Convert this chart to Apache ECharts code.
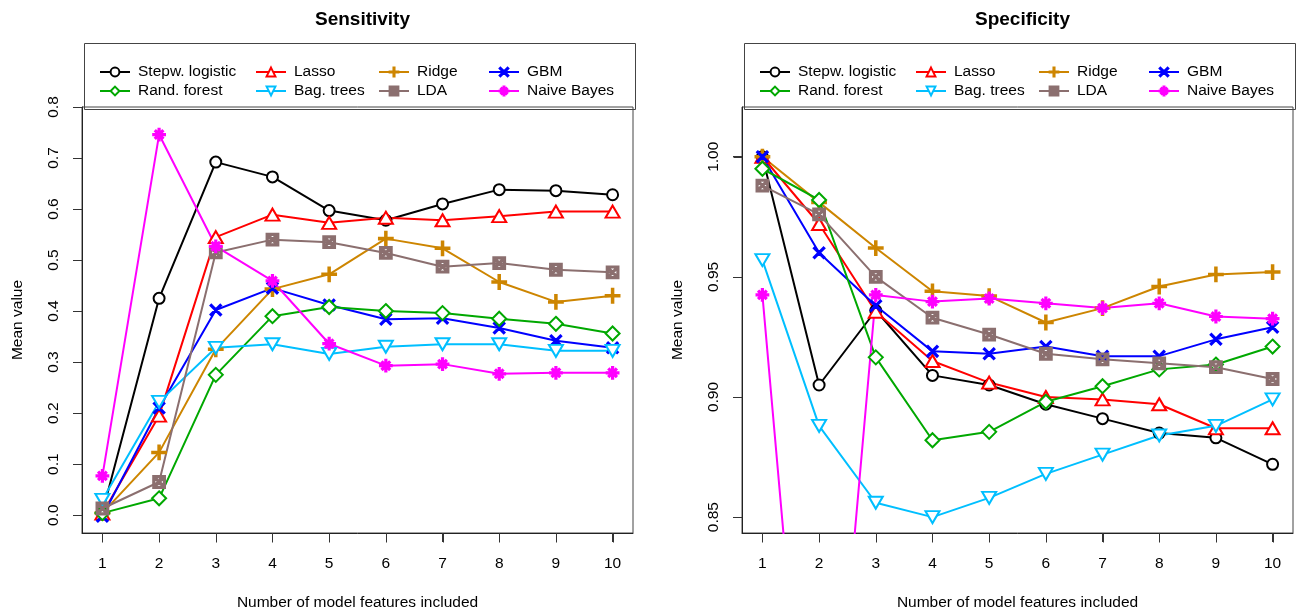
<!DOCTYPE html>
<html lang="en">

<head>
    <meta charset="UTF-8">
    <title>Sensitivity / Specificity</title>
    <script src="https://cdn.jsdelivr.net/npm/echarts@6/dist/echarts.min.js"></script>
</head>

<body style="margin:0">
    <div id="main" style="width:1298px;height:616px"></div>
    <script>
        var mCharts = echarts.init(document.getElementById('main'))

        // number of features on the x axis
        var features = [1, 2, 3, 4, 5, 6, 7, 8, 9, 10];
        var methods = ["Stepw. logistic", "Lasso", "Ridge", "GBM", "Rand. forest", "Bag. trees", "LDA", "Naive Bayes"];

        // Sensitivity (left panel)
        var sensStepw = [0.005, 0.425, 0.692, 0.663, 0.597, 0.578, 0.610, 0.638, 0.636, 0.628];
        var sensLasso = [0.003, 0.195, 0.545, 0.589, 0.573, 0.583, 0.578, 0.586, 0.595, 0.595];
        var sensRidge = [0.004, 0.123, 0.325, 0.443, 0.472, 0.542, 0.523, 0.457, 0.418, 0.430];
        var sensGBM = [-0.002, 0.210, 0.402, 0.445, 0.412, 0.384, 0.386, 0.367, 0.342, 0.328];
        var sensRF = [0.004, 0.033, 0.275, 0.390, 0.408, 0.400, 0.396, 0.385, 0.375, 0.356];
        var sensBag = [0.030, 0.222, 0.328, 0.335, 0.316, 0.330, 0.335, 0.335, 0.322, 0.322];
        var sensLDA = [0.013, 0.065, 0.515, 0.540, 0.535, 0.514, 0.487, 0.494, 0.481, 0.476];
        var sensNB = [0.077, 0.746, 0.527, 0.459, 0.336, 0.293, 0.296, 0.277, 0.279, 0.279];

        // Specificity (right panel)
        var specStepw = [1.000, 0.905, 0.936, 0.909, 0.905, 0.897, 0.891, 0.885, 0.883, 0.872];
        var specLasso = [1.000, 0.972, 0.9355, 0.915, 0.906, 0.900, 0.899, 0.897, 0.887, 0.887];
        var specRidge = [1.000, 0.981, 0.962, 0.944, 0.942, 0.931, 0.937, 0.946, 0.951, 0.952];
        var specGBM = [1.000, 0.960, 0.938, 0.919, 0.918, 0.921, 0.917, 0.917, 0.924, 0.929];
        var specRF = [0.995, 0.982, 0.9165, 0.882, 0.8855, 0.898, 0.9045, 0.9115, 0.9135, 0.921];
        var specBag = [0.957, 0.888, 0.856, 0.850, 0.858, 0.868, 0.876, 0.884, 0.888, 0.899];
        var specLDA = [0.988, 0.976, 0.950, 0.933, 0.926, 0.918, 0.9157, 0.914, 0.9124, 0.9075];
        var specNB = [0.9425, 0.675, 0.9425, 0.9397, 0.941, 0.939, 0.937, 0.939, 0.9335, 0.9326];

        var sensData = [sensStepw, sensLasso, sensRidge, sensGBM, sensRF, sensBag, sensLDA, sensNB];
        var specData = [specStepw, specLasso, specRidge, specGBM, specRF, specBag, specLDA, specNB];

        // tick labels
        var xTicks = [1, 2, 3, 4, 5, 6, 7, 8, 9, 10];
        var sensTicks = [0, 0.1, 0.2, 0.3, 0.4, 0.5, 0.6, 0.7, 0.8];
        var specTicks = [0.85, 0.90, 0.95, 1.00];

        var FONT = "'Liberation Sans', Arial, sans-serif";
        var colors = ["#000000", "#FF0000", "#CD8500", "#0000FF", "#00A800", "#00BFFF", "#8B6F6F", "#FF00FF"];
        var TICK_LEN = 9;

        // R style point symbols (outlines built from thin filled bars)
        var pPlus = "path://M5.7 0h1.6v5.7h5.7v1.6h-5.7v5.7h-1.6v-5.7h-5.7v-1.6h5.7z";
        var pCross = "path://M0 1.1L1.1 0L12 10.9L10.9 12Z M10.9 0L12 1.1L1.1 12L0 10.9Z";
        var pStar = "path://M5.3 0h1.4v5.3h5.3v1.4h-5.3v5.3h-1.4v-5.3h-5.3v-1.4h5.3z M1.8 2.8L2.8 1.8L10.2 9.2L9.2 10.2Z M9.2 1.8L10.2 2.8L2.8 10.2L1.8 9.2Z";
        var pSqX = "path://M0 0H12V12H0Z M1.4 1.4V10.6H10.6V1.4Z M1.4 2.4L2.4 1.4L10.6 9.6L9.6 10.6Z M9.6 1.4L10.6 2.4L2.4 10.6L1.4 9.6Z";
        var symbols = [
            { symbol: "emptyCircle", size: 11, rotate: 0 },
            { symbol: "emptyTriangle", size: [14, 12], rotate: 0 },
            { symbol: pPlus, size: 14, rotate: 0 },
            { symbol: pCross, size: 11, rotate: 0 },
            { symbol: "emptyDiamond", size: 14, rotate: 0 },
            { symbol: "emptyTriangle", size: [14, 12], rotate: 180 },
            { symbol: pSqX, size: 12, rotate: 0 },
            { symbol: pStar, size: 12, rotate: 0 }
        ];

        var panels = [
            { title: "Sensitivity", left: 82, data: sensData, min: -0.035, max: 0.8, ticks: sensTicks, digits: 1 },
            { title: "Specificity", left: 742, data: specData, min: 0.8434, max: 1.0207, ticks: specTicks, digits: 2 }
        ];
        var xMin = 0.64, xMax = 10.36;

        var grids = [], xAxes = [], yAxes = [], titles = [], legends = [], seriesArr = [], graphics = [];
        // legend columns (icon left, relative to plot left)
        var legCols = [12, 168, 291, 401];

        // outward tick marks, placed through the axis scales
        function tickSeries(k, vals, isX, p) {
            return {
                type: "custom",
                xAxisIndex: k, yAxisIndex: k,
                silent: true, clip: false, animation: false, z: 1,
                data: vals.map(function (v) { return isX ? [v, p.min] : [xMin, v]; }),
                renderItem: function (params, api) {
                    var pt = api.coord([api.value(0), api.value(1)]);
                    var x = Math.round(pt[0]) + 0.5, y = Math.round(pt[1]) + 0.5;
                    return {
                        type: "line",
                        shape: isX ? { x1: x, y1: y, x2: x, y2: y + TICK_LEN } : { x1: x, y1: y, x2: x - TICK_LEN, y2: y },
                        style: { stroke: "#333", lineWidth: 1 }
                    };
                }
            };
        }

        panels.forEach(function (p, k) {
            grids.push({
                left: p.left, top: 107, width: 551, height: 429,
                show: true, borderColor: "#444", borderWidth: 1
            });
            titles.push({
                text: p.title, left: p.left + 275.5, top: 5, textAlign: "center",
                textStyle: { fontFamily: FONT, fontSize: 19, fontWeight: "bold", color: "#000" }
            });
            xAxes.push({
                type: "value", gridIndex: k, min: xMin, max: xMax,
                name: "Number of model features included", nameLocation: "middle", nameGap: 62,
                nameTextStyle: { fontFamily: FONT, fontSize: 15.5, color: "#000" },
                axisLine: { show: true, onZero: false, lineStyle: { color: "#222" } },
                splitLine: { show: false },
                axisTick: { show: true, customValues: xTicks, length: TICK_LEN, lineStyle: { color: "#333", width: 1 } },
                axisLabel: { customValues: xTicks, margin: 23, fontFamily: FONT, fontSize: 15.5, color: "#000" }
            });
            yAxes.push({
                type: "value", gridIndex: k, min: p.min, max: p.max,
                name: "Mean value", nameLocation: "middle", nameGap: 56, nameRotate: 90,
                nameTextStyle: { fontFamily: FONT, fontSize: 15.5, color: "#000" },
                axisLine: { show: true, onZero: false, lineStyle: { color: "#222" } },
                splitLine: { show: false },
                axisTick: { show: true, customValues: p.ticks, length: TICK_LEN, lineStyle: { color: "#333", width: 1 } },
                axisLabel: {
                    customValues: p.ticks, rotate: 90, margin: 20, fontFamily: FONT, fontSize: 15.5, color: "#000",
                    formatter: function (v) { return Number(v).toFixed(p.digits); }
                }
            });
            // legend frame above plot
            graphics.push({
                type: "rect", left: p.left, top: 41, z: 0, silent: true,
                shape: { width: 551, height: 66 },
                style: { fill: "none", stroke: "#444", lineWidth: 1 }
            });
            // four legend columns, two entries each (column-major like R)
            var order = [[0, 4], [1, 5], [2, 6], [3, 7]];
            order.forEach(function (pair, c) {
                legends.push({
                    orient: "vertical", left: p.left + legCols[c], top: 59,
                    itemWidth: 30, itemHeight: 11, itemGap: 3,
                    selectedMode: false,
                    data: pair.map(function (i) { return methods[i]; }),
                    textStyle: { fontFamily: FONT, fontSize: 15.5, lineHeight: 16, color: "#000", padding: [0, 0, 0, 3] }
                });
            });
            p.data.forEach(function (vals, i) {
                seriesArr.push({
                    name: methods[i],
                    type: "line",
                    xAxisIndex: k, yAxisIndex: k,
                    data: vals.map(function (v, j) { return [features[j], v]; }),
                    symbol: symbols[i].symbol,
                    symbolSize: symbols[i].size,
                    symbolRotate: symbols[i].rotate,
                    showAllSymbol: true,
                    clip: true,
                    animation: false,
                    color: colors[i],
                    lineStyle: { color: colors[i], width: 2 },
                    itemStyle: { color: colors[i], borderColor: colors[i], borderWidth: 1.8 },
                    emphasis: { disabled: true }
                });
            });
            seriesArr.push(tickSeries(k, xTicks, true, p));
            seriesArr.push(tickSeries(k, p.ticks, false, p));
        });

        var option = {
            backgroundColor: "#fff",
            title: titles,
            legend: legends,
            grid: grids,
            xAxis: xAxes,
            yAxis: yAxes,
            graphic: graphics,
            series: seriesArr
        };
        mCharts.setOption(option)
    </script>
</body>

</html>
